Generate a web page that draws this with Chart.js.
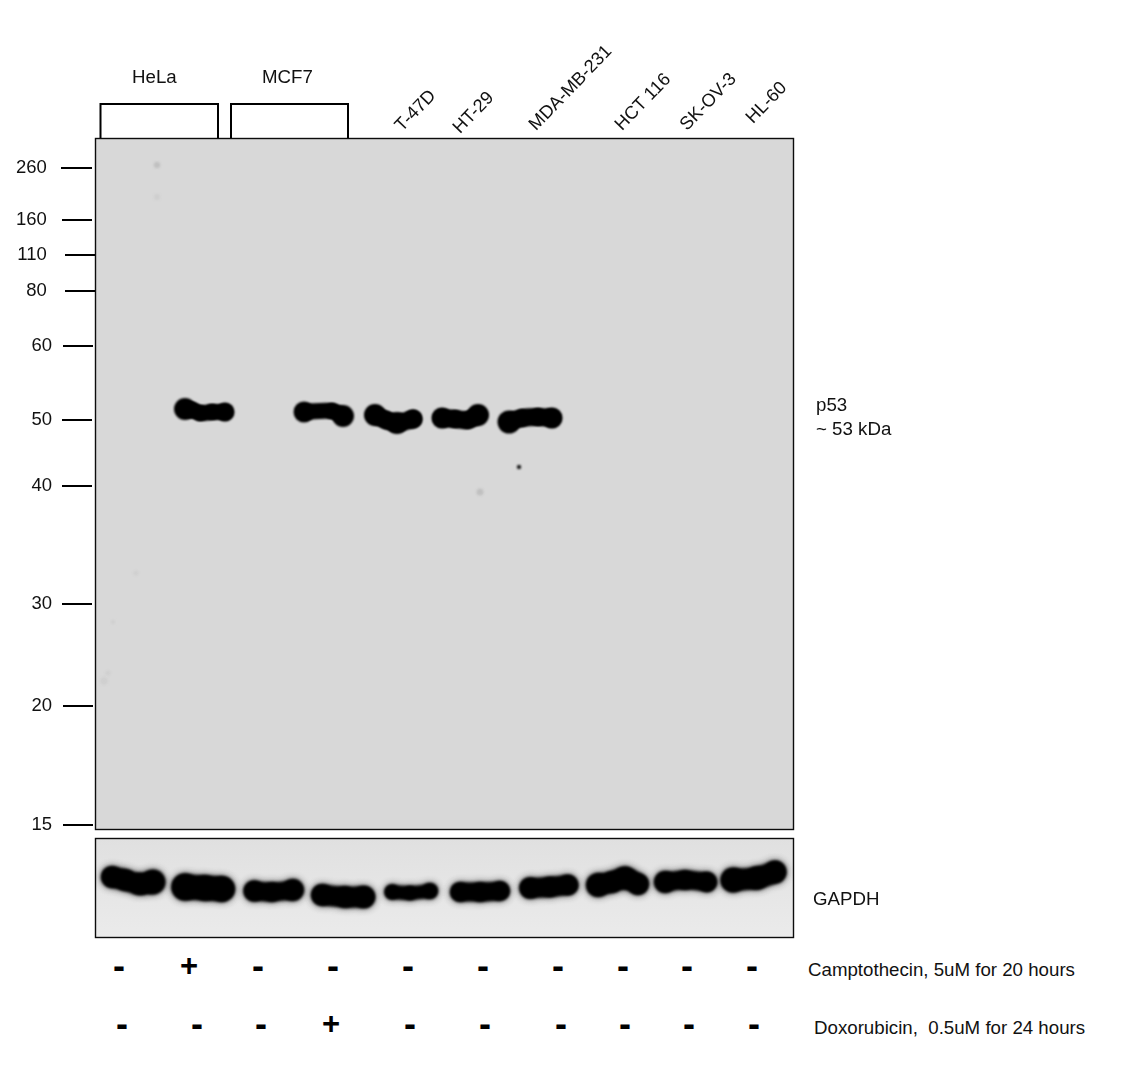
<!DOCTYPE html>
<html><head><meta charset="utf-8">
<style>
html,body{margin:0;padding:0;background:#fff;}
#wrap{position:relative;width:1148px;height:1069px;overflow:hidden;font-family:"Liberation Sans",Arial,sans-serif;color:#111;}
canvas{position:absolute;left:0;}
.t{position:absolute;font-size:18.7px;line-height:20px;white-space:pre;}
.s{position:absolute;line-height:30px;transform:translate(-50%,-50%);color:#000;}
</style>
<script src="https://cdn.jsdelivr.net/npm/chart.js@4"></script>
</head><body>
<div id="wrap">
<canvas id="blot" style="top:0"></canvas>
<canvas id="gapdh" style="top:832px"></canvas>
</div>
<script>
// ---- molecular-weight ladder (kDa) and migration distance on the membrane
const mwLabels = ['260','160','110','80','60','50','40','30','20','15'];
const mwMigration = [30,82,117,153,208,282,348,466,568,687];
const mwIndent = [1,1,1,1,0,0,0,0,0,0];
const mwTickFrom = [61,62,65,65,63,62,62,62,63,63];
const mwTickTo = [92,92,95,95,93,92,92,92,93,93];

// ---- p53 bands: x = distance across membrane, y = migration, r = half band height
const p53HeLaCpt = [{x:90,y:271,r:10},{x:97,y:272,r:7},{x:105,y:275,r:7},{x:117,y:274,r:7},{x:130,y:274,r:8.5}];
const p53Mcf7Dox = [{x:209,y:274,r:9.5},{x:237,y:273,r:7},{x:248,y:278,r:10}];
const p53T47D = [{x:280,y:277,r:10},{x:291,y:282,r:8},{x:302,y:285,r:10},{x:318,y:281,r:8.5}];
const p53HT29 = [{x:347,y:280,r:9.5},{x:360,y:281,r:8},{x:373,y:282,r:8},{x:383,y:277,r:10}];
const p53MDA = [{x:414,y:284,r:10.5},{x:427,y:280,r:8},{x:443,y:279,r:8},{x:457,y:280,r:9.5}];
const darkSpots = [{x:424,y:329,r:2.2}];
const midSpots = [{x:62,y:27,r:3.2},{x:385,y:354,r:3.5}];
const faintSpots = [{x:62,y:59,r:3},{x:41,y:435,r:2.5},{x:18,y:484,r:2},{x:9,y:543,r:4},{x:13,y:535,r:2.5}];

// ---- GAPDH loading-control bands, one per lane
const gapdhLane1 = [{x:17,y:39,r:9},{x:30,y:42,r:9},{x:45,y:46,r:9.5},{x:58,y:44,r:11}];
const gapdhLane2 = [{x:90,y:49,r:12},{x:110,y:50,r:11},{x:127,y:51,r:11}];
const gapdhLane3 = [{x:159,y:53,r:9},{x:177,y:54,r:8},{x:198,y:52,r:9.5}];
const gapdhLane4 = [{x:227,y:57,r:9},{x:250,y:59,r:9},{x:269,y:59,r:9.5}];
const gapdhLane5 = [{x:297,y:54,r:6},{x:315,y:55,r:5.5},{x:335,y:53,r:6.5}];
const gapdhLane6 = [{x:365,y:54,r:8},{x:385,y:54,r:8},{x:405,y:53,r:8}];
const gapdhLane7 = [{x:435,y:50,r:9},{x:455,y:49,r:8.5},{x:473,y:47,r:8.5}];
const gapdhLane8 = [{x:503,y:47,r:10.5},{x:517,y:44,r:9},{x:530,y:40,r:10},{x:543,y:46,r:9}];
const gapdhLane9 = [{x:570,y:44,r:9.5},{x:590,y:42,r:8},{x:612,y:44,r:8.5}];
const gapdhLane10 = [{x:638,y:42,r:11},{x:662,y:40,r:10},{x:680,y:34,r:9.5}];

// ---- text
const groupLabels = ['HeLa','MCF7'];
const laneLabels = ['T-47D','HT-29','MDA-MB-231','HCT 116','SK-OV-3','HL-60'];
const camptothecin = ['-','+','-','-','-','-','-','-','-','-'];
const doxorubicin = ['-','-','-','+','-','-','-','-','-','-'];
const camptothecinLabel = 'Camptothecin, 5uM for 20 hours';
const doxorubicinLabel = 'Doxorubicin,  0.5uM for 24 hours';

// ---- layout (separate from the data)
const groupLabelAt = [[132,67],[262,67]];
const bracketSpans = [[5.5,123],[136,253]];
const laneLabelAt = [[405,135],[463,137],[539,134],[625,134],[690,134],[756,127]];
const camptoX = [119,189,258,333,408,483,558,623,687,752];
const doxoX = [122,197,261,331,410,485,561,625,689,754];

function bandDataset(points,bleed){
  return {data:points,showLine:true,borderColor:'#000',backgroundColor:'#000',
    borderWidth:2*(Math.min(...points.map(p=>p.r))+bleed),tension:0.4,borderCapStyle:'round',borderJoinStyle:'round',
    pointRadius:c=>c.raw.r+bleed,pointBorderWidth:0};
}
function spotDataset(points,color){
  return {data:points,showLine:false,backgroundColor:color,pointRadius:c=>c.raw.r,pointBorderWidth:0};
}
const panelPlugin = {
  id:'panel',
  beforeDraw(chart,args,o){
    const a=chart.chartArea,ctx=chart.ctx;
    ctx.save();
    if(o.colors.length>1){
      const g=ctx.createLinearGradient(0,a.top,0,a.bottom);
      g.addColorStop(0,o.colors[0]);g.addColorStop(1,o.colors[1]);ctx.fillStyle=g;
    } else ctx.fillStyle=o.colors[0];
    ctx.fillRect(a.left,a.top,a.width,a.height);
    ctx.restore();
  },
  beforeDatasetsDraw(chart,args,o){
    const ctx=chart.ctx;ctx.save();
    ctx.filter='blur('+o.blur+'px)';
    if(o.halo){ctx.shadowColor=o.halo;ctx.shadowBlur=7;}
  },
  afterDatasetsDraw(chart){chart.ctx.restore();},
  afterDraw(chart,args,o){
    const a=chart.chartArea,ctx=chart.ctx;
    ctx.save();ctx.strokeStyle='#0c0c0c';ctx.lineWidth=1.4;
    ctx.strokeRect(a.left+.5,a.top+.5,a.width-1,a.height-1);
    const y=chart.scales.y,x=chart.scales.x;
    if(o.ladder){
      ctx.lineWidth=2;ctx.strokeStyle='#000';
      mwMigration.forEach((m,i)=>{
        const p=Math.round(y.getPixelForValue(m));
        ctx.beginPath();ctx.moveTo(mwTickFrom[i],p);ctx.lineTo(mwTickTo[i],p);ctx.stroke();
      });
      bracketSpans.forEach(s=>{
        const l=x.getPixelForValue(s[0]),r=x.getPixelForValue(s[1]);
        ctx.beginPath();ctx.moveTo(l,a.top);ctx.lineTo(l,104);ctx.lineTo(r,104);ctx.lineTo(r,a.top);ctx.stroke();
      });
    }
    ctx.restore();
  }
};
const common = ()=>({responsive:false,animation:false,events:[],devicePixelRatio:1,
  plugins:{legend:{display:false},tooltip:{enabled:false}}});

Chart.register(panelPlugin);
document.getElementById('blot').width=1148;document.getElementById('blot').height=836;
document.getElementById('gapdh').width=1148;document.getElementById('gapdh').height=112;

new Chart(document.getElementById('blot'),{
  type:'scatter',
  data:{datasets:[
    spotDataset(faintSpots,'#cfcfcf'),spotDataset(midSpots,'#c0c0c0'),spotDataset(darkSpots,'#1c1c1c'),
    ...[p53HeLaCpt,p53Mcf7Dox,p53T47D,p53HT29,p53MDA].map(b=>bandDataset(b,1))
  ]},
  options:{...common(),
    layout:{autoPadding:false,padding:{top:138,bottom:6,right:354,left:0}},
    scales:{
      x:{type:'linear',min:0,max:699,display:false},
      y:{type:'linear',min:0,max:692,reverse:true,
        afterFit(s){s.width=95;s.paddingTop=0;s.paddingBottom=0;},
        afterBuildTicks(s){s.ticks=mwMigration.map(v=>({value:v}));},
        grid:{display:false,drawTicks:false},border:{display:false},
        ticks:{autoSkip:false,padding:43,color:'#111',font:{family:'"Liberation Sans"',size:18.5},
          callback:(v,i)=>mwLabels[i]+' '.repeat(mwIndent[i])}
      }
    },
    plugins:{...common().plugins,panel:{colors:['#d8d8d8'],blur:1.3,ladder:true}}
  }
});

new Chart(document.getElementById('gapdh'),{
  type:'scatter',
  data:{datasets:[gapdhLane1,gapdhLane2,gapdhLane3,gapdhLane4,gapdhLane5,gapdhLane6,gapdhLane7,gapdhLane8,gapdhLane9,gapdhLane10].map(b=>bandDataset(b,1.5))},
  options:{...common(),
    layout:{autoPadding:false,padding:{top:6,bottom:6,left:95,right:354}},
    scales:{x:{type:'linear',min:0,max:699,display:false},y:{type:'linear',min:0,max:100,reverse:true,display:false}},
    plugins:{...common().plugins,panel:{colors:['#e0e0e0','#ebebeb'],blur:1.6,halo:'rgba(0,0,0,0.45)',ladder:false}}
  }
});

// ---- real-text annotations
const wrap=document.getElementById('wrap');
function addText(txt,x,y,extra){
  const d=document.createElement('div');d.className='t';d.textContent=txt;
  d.style.left=x+'px';d.style.top=y+'px';if(extra)Object.assign(d.style,extra);wrap.appendChild(d);
}
groupLabels.forEach((t,i)=>addText(t,groupLabelAt[i][0],groupLabelAt[i][1]));
laneLabels.forEach((t,i)=>addText(t,laneLabelAt[i][0],laneLabelAt[i][1]-20,{fontSize:'18.2px',transform:'rotate(-46deg)',transformOrigin:'0 100%'}));
addText('p53',816,395);
addText('~ 53 kDa',816,419);
addText('GAPDH',813,889);
addText(camptothecinLabel,808,960);
addText(doxorubicinLabel,814,1018);
function addSign(sym,x,y){
  const d=document.createElement('div');d.className='s';d.textContent=sym;
  d.style.left=x+'px';d.style.top=y+'px';
  d.style.font=sym==='+'?'bold 31px/30px "Liberation Sans"':'bold 36px/30px "Liberation Sans"';
  wrap.appendChild(d);
}
camptothecin.forEach((s,i)=>addSign(s,camptoX[i],966));
doxorubicin.forEach((s,i)=>addSign(s,doxoX[i],1024));
</script>
</body></html>
